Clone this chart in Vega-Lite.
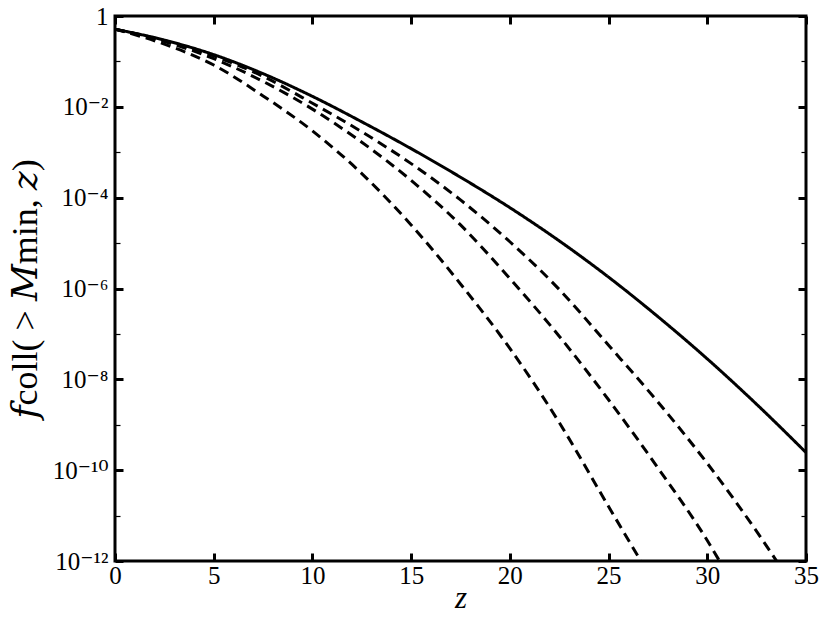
{
  "$schema": "https://vega.github.io/schema/vega-lite/v6.json",
  "width": 691,
  "height": 545,
  "autosize": "none",
  "padding": {"left": 115, "top": 16, "right": 24, "bottom": 62},
  "background": "white",
  "config": {
    "view": {"stroke": "black", "strokeWidth": 3},
    "font": "Liberation Serif",
    "axis": {"domain": false, "grid": false, "labelFont": "Liberation Serif, DejaVu Serif", "titleFont": "Liberation Serif, DejaVu Serif", "labelColor": "black", "titleColor": "black", "tickColor": "black"}
  },
  "data": {
    "values": [
      {"z": 0, "f": 0.513, "s": "solid"},
      {"z": 2.5, "f": 0.295, "s": "solid"},
      {"z": 5, "f": 0.141, "s": "solid"},
      {"z": 7.5, "f": 0.0537, "s": "solid"},
      {"z": 10, "f": 0.0170, "s": "solid"},
      {"z": 12.5, "f": 0.00468, "s": "solid"},
      {"z": 15, "f": 0.00120, "s": "solid"},
      {"z": 17.5, "f": 2.82e-4, "s": "solid"},
      {"z": 20, "f": 6.03e-5, "s": "solid"},
      {"z": 22.5, "f": 1.12e-5, "s": "solid"},
      {"z": 25, "f": 1.78e-6, "s": "solid"},
      {"z": 27.5, "f": 2.40e-7, "s": "solid"},
      {"z": 30, "f": 2.82e-8, "s": "solid"},
      {"z": 32.5, "f": 2.82e-9, "s": "solid"},
      {"z": 35, "f": 2.45e-10, "s": "solid"},

      {"z": 0, "f": 0.513, "s": "d3"},
      {"z": 2.5, "f": 0.288, "s": "d3"},
      {"z": 5, "f": 0.132, "s": "d3"},
      {"z": 7.5, "f": 0.0468, "s": "d3"},
      {"z": 10, "f": 0.0120, "s": "d3"},
      {"z": 12.5, "f": 0.00282, "s": "d3"},
      {"z": 15, "f": 5.62e-4, "s": "d3"},
      {"z": 17.5, "f": 8.91e-5, "s": "d3"},
      {"z": 20, "f": 1.07e-5, "s": "d3"},
      {"z": 22.5, "f": 9.55e-7, "s": "d3"},
      {"z": 25, "f": 5.62e-8, "s": "d3"},
      {"z": 27.5, "f": 3.16e-9, "s": "d3"},
      {"z": 30, "f": 1.41e-10, "s": "d3"},
      {"z": 32.5, "f": 4.47e-12, "s": "d3"},
      {"z": 33.6, "f": 8.71e-13, "s": "d3"},

      {"z": 0, "f": 0.513, "s": "d2"},
      {"z": 2.5, "f": 0.275, "s": "d2"},
      {"z": 5, "f": 0.115, "s": "d2"},
      {"z": 7.5, "f": 0.0363, "s": "d2"},
      {"z": 10, "f": 0.00891, "s": "d2"},
      {"z": 12.5, "f": 0.00166, "s": "d2"},
      {"z": 15, "f": 2.40e-4, "s": "d2"},
      {"z": 17.5, "f": 2.51e-5, "s": "d2"},
      {"z": 20, "f": 1.66e-6, "s": "d2"},
      {"z": 22.5, "f": 8.91e-8, "s": "d2"},
      {"z": 25, "f": 3.55e-9, "s": "d2"},
      {"z": 27.5, "f": 1.12e-10, "s": "d2"},
      {"z": 30, "f": 2.82e-12, "s": "d2"},
      {"z": 30.7, "f": 8.71e-13, "s": "d2"},

      {"z": 0, "f": 0.513, "s": "d1"},
      {"z": 2.5, "f": 0.240, "s": "d1"},
      {"z": 5, "f": 0.0832, "s": "d1"},
      {"z": 7.5, "f": 0.0174, "s": "d1"},
      {"z": 10, "f": 0.00295, "s": "d1"},
      {"z": 12.5, "f": 3.39e-4, "s": "d1"},
      {"z": 15, "f": 2.51e-5, "s": "d1"},
      {"z": 17.5, "f": 1.26e-6, "s": "d1"},
      {"z": 20, "f": 4.79e-8, "s": "d1"},
      {"z": 22.5, "f": 1.12e-9, "s": "d1"},
      {"z": 25, "f": 1.58e-11, "s": "d1"},
      {"z": 26.8, "f": 7.59e-13, "s": "d1"}
    ]
  },
  "layer": [
    {
      "mark": {"type": "line", "clip": true, "interpolate": "monotone", "color": "black", "strokeWidth": 3},
      "encoding": {
        "x": {"field": "z", "type": "quantitative", "scale": {"domain": [0, 35], "nice": false, "zero": false},
          "axis": {"orient": "bottom", "values": [0, 5, 10, 15, 20, 25, 30, 35], "offset": -8,
            "tickSize": 8, "tickWidth": 3,
            "labelFontSize": 25, "labelPadding": 2, "labelFlush": false, "labelOverlap": false,
            "title": "z", "titleFont": "Liberation Serif", "titleFontSize": 31, "titleFontStyle": "italic", "titleFontWeight": "normal", "titlePadding": -5}},
        "y": {"field": "f", "type": "quantitative", "scale": {"type": "log", "domain": [1e-12, 1], "nice": false},
          "axis": {"orient": "left", "values": [1, 0.1, 0.01, 0.001, 1e-4, 1e-5, 1e-6, 1e-7, 1e-8, 1e-9, 1e-10, 1e-11, 1e-12],
            "labelExpr": "({'0':'1','-2':'10⁻²','-4':'10⁻⁴','-6':'10⁻⁶','-8':'10⁻⁸','-10':'10⁻¹⁰','-12':'10⁻¹²'})['' + round(log(datum.value)/LN10)] || ''",
            "tickSize": {"condition": {"test": "round(log(datum.value)/LN10) % 2 == 0", "value": -8}, "value": -5},
            "tickWidth": {"condition": {"test": "round(log(datum.value)/LN10) % 2 == 0", "value": 3}, "value": 1.2},
            "labelFontSize": 25, "labelPadding": 15, "labelFlush": false, "labelOverlap": false,
            "title": "𝑓coll( > 𝑀min, 𝑧)", "titleFontSize": 36, "titleFontWeight": "normal", "titlePadding": 8}},
        "detail": {"field": "s"},
        "strokeDash": {"field": "s", "type": "nominal", "scale": {"domain": ["solid", "d1", "d2", "d3"], "range": [[1, 0], [10, 6], [10, 6], [10, 6]]}, "legend": null}
      }
    },
    {
      "mark": {"type": "line", "opacity": 0, "clip": true},
      "encoding": {
        "x": {"field": "z", "type": "quantitative",
          "axis": {"orient": "top", "values": [0, 5, 10, 15, 20, 25, 30, 35], "labels": false, "title": null, "offset": -8,
            "tickSize": 8, "tickWidth": 3}},
        "y": {"field": "f", "type": "quantitative",
          "axis": {"orient": "right", "values": [1, 0.1, 0.01, 0.001, 1e-4, 1e-5, 1e-6, 1e-7, 1e-8, 1e-9, 1e-10, 1e-11, 1e-12], "labels": false, "title": null,
            "tickSize": {"condition": {"test": "round(log(datum.value)/LN10) % 2 == 0", "value": -8}, "value": -5},
            "tickWidth": {"condition": {"test": "round(log(datum.value)/LN10) % 2 == 0", "value": 3}, "value": 1.2}}},
        "detail": {"field": "s"}
      }
    }
  ],
  "resolve": {"axis": {"x": "independent", "y": "independent"}}
}
